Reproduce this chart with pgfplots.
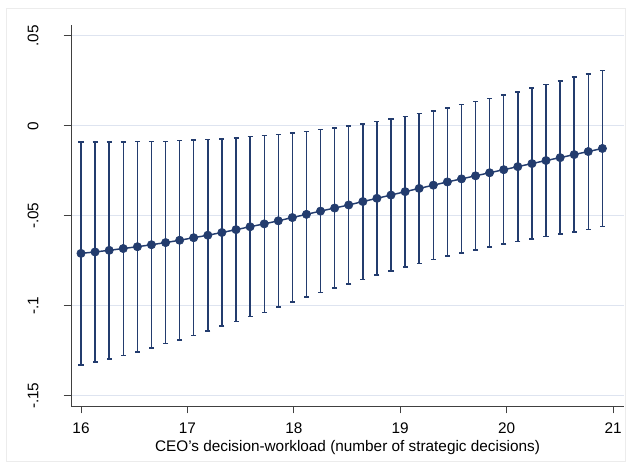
\documentclass[border=0pt]{standalone}
\usepackage{pgfplots}
\pgfplotsset{compat=1.18}
\usepackage{pgfplotstable}
\usepackage{fontspec}
\setmainfont{Liberation Sans}
\definecolor{navyc}{RGB}{35,60,110}
\definecolor{gridc}{RGB}{222,228,240}
\definecolor{framec}{RGB}{236,236,236}
\pgfplotstableread{
x p h
16.000 -0.0709 0.0620
16.132 -0.0701 0.0611
16.265 -0.0692 0.0603
16.397 -0.0682 0.0593
16.530 -0.0672 0.0584
16.662 -0.0661 0.0574
16.795 -0.0649 0.0562
16.927 -0.0636 0.0553
17.059 -0.0622 0.0542
17.192 -0.0608 0.0531
17.324 -0.0593 0.0520
17.457 -0.0577 0.0510
17.589 -0.0561 0.0500
17.722 -0.0545 0.0491
17.854 -0.0528 0.0480
17.986 -0.0510 0.0469
18.119 -0.0492 0.0460
18.251 -0.0474 0.0452
18.384 -0.0457 0.0445
18.516 -0.0440 0.0438
18.649 -0.0421 0.0432
18.781 -0.0403 0.0426
18.913 -0.0385 0.0422
19.046 -0.0366 0.0419
19.178 -0.0348 0.0417
19.311 -0.0330 0.0413
19.443 -0.0312 0.0412
19.576 -0.0295 0.0412
19.708 -0.0278 0.0412
19.840 -0.0261 0.0413
19.973 -0.0244 0.0414
20.105 -0.0227 0.0416
20.238 -0.0210 0.0420
20.370 -0.0193 0.0423
20.503 -0.0177 0.0425
20.635 -0.0160 0.0430
20.767 -0.0143 0.0432
20.900 -0.0126 0.0434
}\datatable
\begin{document}
\begin{tikzpicture}
\path[use as bounding box] (-53.25pt,-46.5pt) rectangle (417pt,304.5pt);
\draw[framec, line width=0.75pt] (-48pt,-41.25pt) rectangle (415.5pt,297.75pt);
\begin{axis}[
  at={(0,0)}, anchor=south west, scale only axis,
  width=414.75pt, height=285.75pt,
  xmin=15.906, xmax=21.103, ymin=-0.1557, ymax=0.056,
  axis x line*=bottom, axis y line*=left,
  axis line style={line width=0.75pt, color=black!75, -},
  xtick={16,17,18,19,20,21}, xticklabels={16,17,18,19,20,21},
  ytick={-0.15,-0.1,-0.05,0,0.05}, yticklabels={-.15,-.1,-.05,0,.05},
  tick align=outside, major tick length=5.5pt,
  tick style={line width=0.75pt, color=black!75},
  ymajorgrids, grid style={line width=0.8pt, color=gridc},
  ticklabel style={font=\fontsize{11.5}{14}\selectfont},
  xticklabel style={anchor=base}, xticklabel shift=15.4pt,
  yticklabel style={rotate=90, anchor=base}, yticklabel shift=19pt,
  xlabel={CEO's decision-workload (number of strategic decisions)},
  xlabel style={font=\fontsize{11.5}{14}\selectfont, at={(axis description cs:0.5,0)}, anchor=base, yshift=-34pt},
  clip=false,
]
\addplot[color=navyc, line width=1.1pt, mark=*, mark size=3.1pt,
  mark options={solid, fill=navyc, line width=0.5pt},
  error bars/.cd, y dir=both, y explicit,
  error bar style={line width=1.1pt, color=navyc},
  error mark=-,
  error mark options={rotate=90, line width=1.1pt, mark size=1.9pt, color=navyc}]
  table[x=x, y=p, y error=h] {\datatable};
\end{axis}
\end{tikzpicture}
\end{document}
